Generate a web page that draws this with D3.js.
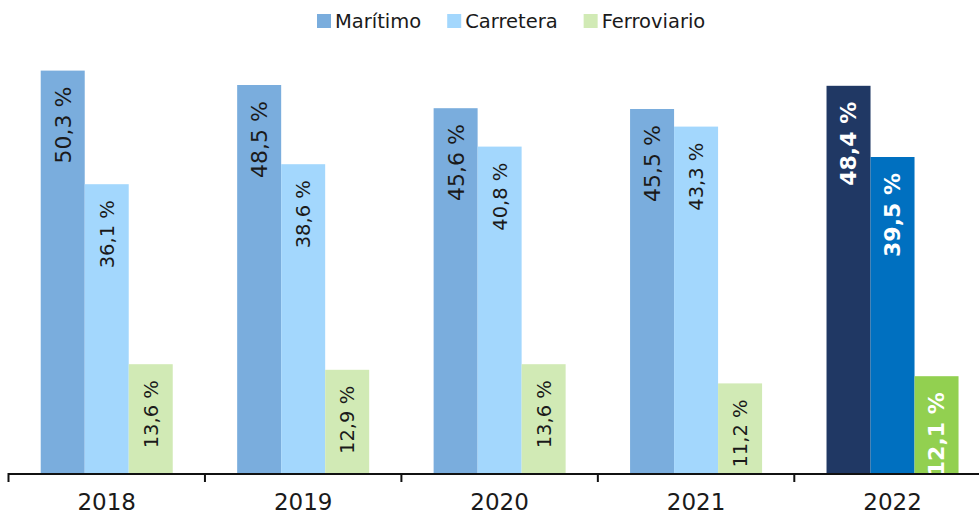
<!DOCTYPE html>
<html>
<head>
<meta charset="utf-8">
<script src="https://cdn.jsdelivr.net/npm/d3@7"></script>
<style>
  body { margin: 0; background: #fff; }
  svg { display: block; font-family: "DejaVu Sans", sans-serif; }
</style>
</head>
<body>
<div id="graf"></div>
<script>
// Reparto modal por año (%)
years = ['2018', '2019', '2020', '2021', '2022']
series = ['Marítimo', 'Carretera', 'Ferroviario']
maritimo    = [50.3, 48.5, 45.6, 45.5, 48.4]
carretera   = [36.1, 38.6, 40.8, 43.3, 39.5]
ferroviario = [13.6, 12.9, 13.6, 11.2, 12.1]

colores      = ['#7aaddd', '#a3d7fd', '#d1eab5']
colores2022  = ['#203864', '#0070c0', '#92d050']

ancho_total = 979
alto_total  = 515
base = 473

svg = d3.select('#graf').append('svg')
        .attr('width', ancho_total)
        .attr('height', alto_total)

// Escaladores
x0 = d3.scaleBand().domain(years)
       .range([8.5, 990.75])
       .paddingInner(0.328)
       .paddingOuter(0.164)
x1 = d3.scaleBand().domain(series).range([0, x0.bandwidth()])
y  = d3.scaleLinear().domain([0, 55]).range([base, 33])

valores = [maritimo, carretera, ferroviario]
data = []
years.forEach((yr, i) => {
  series.forEach((s, j) => {
    data.push({ year: yr, serie: s, j: j, v: valores[j][i], dest: yr === '2022' })
  })
})

fmt = v => d3.format('.1f')(v).replace('.', ',') + ' %'

g = svg.append('g')

g.selectAll('rect.bar')
  .data(data)
  .join('rect')
  .attr('class', 'bar')
  .attr('x', d => x0(d.year) + x1(d.serie))
  .attr('y', d => y(d.v))
  .attr('width', x1.bandwidth())
  .attr('height', d => y(0) - y(d.v))
  .attr('fill', d => d.dest ? colores2022[d.j] : colores[d.j])

// Etiquetas rotadas
g.selectAll('text.lbl')
  .data(data)
  .join('text')
  .attr('class', 'lbl')
  .attr('transform', d => `translate(${x0(d.year) + x1(d.serie) + x1.bandwidth() / 2}, ${y(d.v) + 16}) rotate(-90)`)
  .attr('text-anchor', 'end')
  .attr('dy', '0.36em')
  .attr('font-size', d => d.dest ? 22 : (d.j === 0 ? 22 : 19.5))
  .attr('font-weight', d => d.dest ? 'bold' : 'normal')
  .attr('fill', d => d.dest ? '#ffffff' : '#1a1a1a')
  .text(d => fmt(d.v))

// Eje X: línea, marcas en los límites y años al centro
ejes = svg.append('g')
ejes.append('line')
    .attr('x1', 8.5).attr('x2', ancho_total)
    .attr('y1', base + 1).attr('y2', base + 1)
    .attr('stroke', '#111').attr('stroke-width', 2)

limites = years.map(d => x0(d) - (x0.step() - x0.bandwidth()) / 2)
limites.push(limites[limites.length - 1] + x0.step())
ejes.selectAll('line.tick')
    .data(limites)
    .join('line')
    .attr('class', 'tick')
    .attr('x1', d => d).attr('x2', d => d)
    .attr('y1', base).attr('y2', base + 9)
    .attr('stroke', '#111').attr('stroke-width', 2)

ejes.selectAll('text.year')
    .data(years)
    .join('text')
    .attr('class', 'year')
    .attr('x', d => x0(d) + x0.bandwidth() / 2)
    .attr('y', 510)
    .attr('text-anchor', 'middle')
    .attr('font-size', 23)
    .attr('fill', '#1a1a1a')
    .text(d => d)

// Leyenda
leg = svg.append('g')
lx = 317
series.forEach((s, j) => {
  leg.append('rect')
     .attr('x', lx).attr('y', 14)
     .attr('width', 14).attr('height', 14)
     .attr('fill', colores[j])
  t = leg.append('text')
     .attr('x', lx + 18).attr('y', 28)
     .attr('font-size', 19.5)
     .attr('fill', '#1a1a1a')
     .text(s)
  lx += 18 + t.node().getComputedTextLength() + 26
})
</script>
</body>
</html>
